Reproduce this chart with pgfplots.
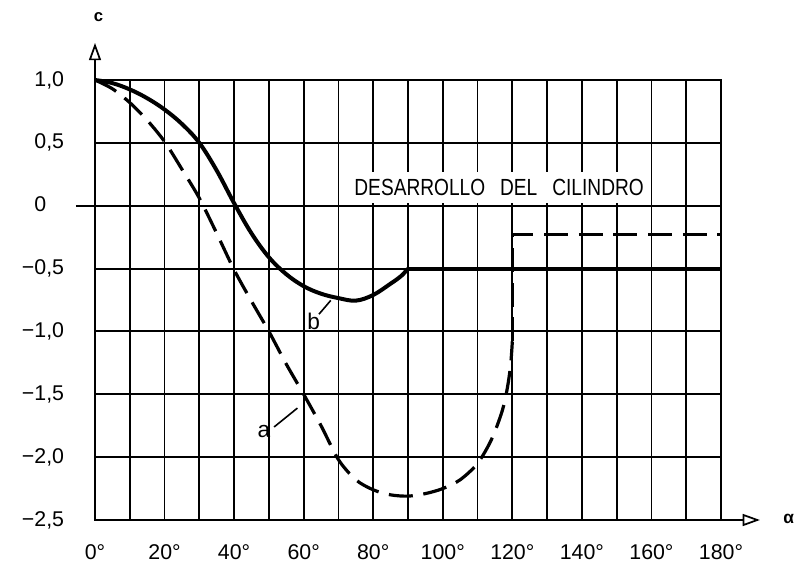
\documentclass[border=0pt]{standalone}
\usepackage{pgfplots}
\pgfplotsset{compat=1.18}
\usepackage{graphicx}
\usepackage{fontspec}
\setmainfont{Liberation Sans}
\usetikzlibrary{arrows.meta}

\begin{document}
\begin{tikzpicture}
\begin{axis}[
  scale only axis, width=469.5pt, height=330pt,
  xmin=0, xmax=180, ymin=-2.5, ymax=1,
  xtick={0,20,...,180},
  xticklabels={0°,20°,40°,60°,80°,100°,120°,140°,160°,180°},
  minor xtick={10,30,...,170},
  ytick={-2.5,-2,-1.5,-1,-0.5,0,0.5,1},
  yticklabels={{−2,5},{−2,0},{−1,5},{−1,0},{−0,5},{0\phantom{,5}},{0,5},{1,0}},
  grid=both,
  major grid style={black, line width=1.4pt},
  minor grid style={black, line width=1.4pt},
  axis line style={black, line width=1.4pt},
  major tick length=0pt, minor tick length=0pt,
  tick label style={font=\fontsize{16}{18}\selectfont, inner sep=0pt},
  yticklabel style={anchor=east, xshift=-23pt},
  xticklabel style={anchor=north, yshift=-18pt},
  clip=false,
]
% curve b (solid)
\addplot[black, line width=3pt, smooth, tension=0.6] coordinates {
(0,1) (5,0.975) (10,0.925) (15,0.855) (20,0.765) (25,0.65) (30,0.5) (35,0.28)
(40,0.02) (45,-0.22) (50,-0.41) (55,-0.545) (60,-0.64) (65,-0.70) (70,-0.735)
(75,-0.755) (80,-0.71) (85,-0.62) (88,-0.56) (90,-0.5)};
\addplot[black, line width=3pt] coordinates {(90,-0.5) (180,-0.5)};
% curve a (dashed)
\addplot[black, line width=2.4pt, dash pattern=on 18pt off 8pt, smooth, tension=0.5] coordinates {
(0,1) (5,0.93) (10,0.82) (15,0.68) (20,0.51) (25,0.29) (30,0.06) (35,-0.22)
(40,-0.51) (45,-0.76) (50,-1.0) (55,-1.26) (60,-1.5) (65,-1.75) (70,-2.02)
(75,-2.18) (80,-2.26) (85,-2.3) (90,-2.31) (95,-2.29) (100,-2.25) (105,-2.18)
(110,-2.05) (114,-1.86) (117,-1.64) (118.5,-1.46) (119.5,-1.27) (120,-1.08)};
\addplot[black, line width=2.4pt, dash pattern=on 18pt off 8pt] coordinates {
(120,-1.08) (120,-0.23) (180,-0.23)};
% annotations
\draw[line width=1.2pt] (axis cs:64.4,-0.863) -- (axis cs:67.8,-0.753);
\node[font=\fontsize{17}{20}\selectfont] at (axis cs:62.9,-0.92) {b};
\draw[line width=1.2pt] (axis cs:51.5,-1.76) -- (axis cs:58.2,-1.61);
\node[font=\fontsize{17}{20}\selectfont] at (axis cs:48.6,-1.80) {a};
\node[fill=white, inner xsep=2pt, inner ysep=5.5pt] at (axis cs:116.2,0.145)
  {\scalebox{0.82}[1]{\fontsize{17.5}{20}\selectfont DESARROLLO\hspace{13.7pt}DEL\hspace{13.7pt}CILINDRO}};
% axes arrows
\draw[line width=1.4pt, -{Triangle[open, length=13pt, width=9pt, line width=1.3pt]}] (axis cs:0,1) -- (axis cs:0,1.295);
\draw[line width=1.4pt, -{Triangle[open, length=13pt, width=9pt, line width=1.3pt]}] (axis cs:180,-2.5) -- (axis cs:191.2,-2.5);
\draw[line width=1.4pt] (axis cs:-5.5,0) -- (axis cs:0,0);
\node[font=\fontsize{12.5}{15}\bfseries\selectfont] at (axis cs:1,1.5) {c};
\node[font=\fontsize{13}{15}\bfseries\selectfont] at (axis cs:199.5,-2.49) {α};
\end{axis}
\pgfresetboundingbox
\path[use as bounding box] ([shift={(-71.25pt,-37.5pt)}]current axis.south west) rectangle ([shift={(57.75pt,60pt)}]current axis.north east);
\end{tikzpicture}
\end{document}
